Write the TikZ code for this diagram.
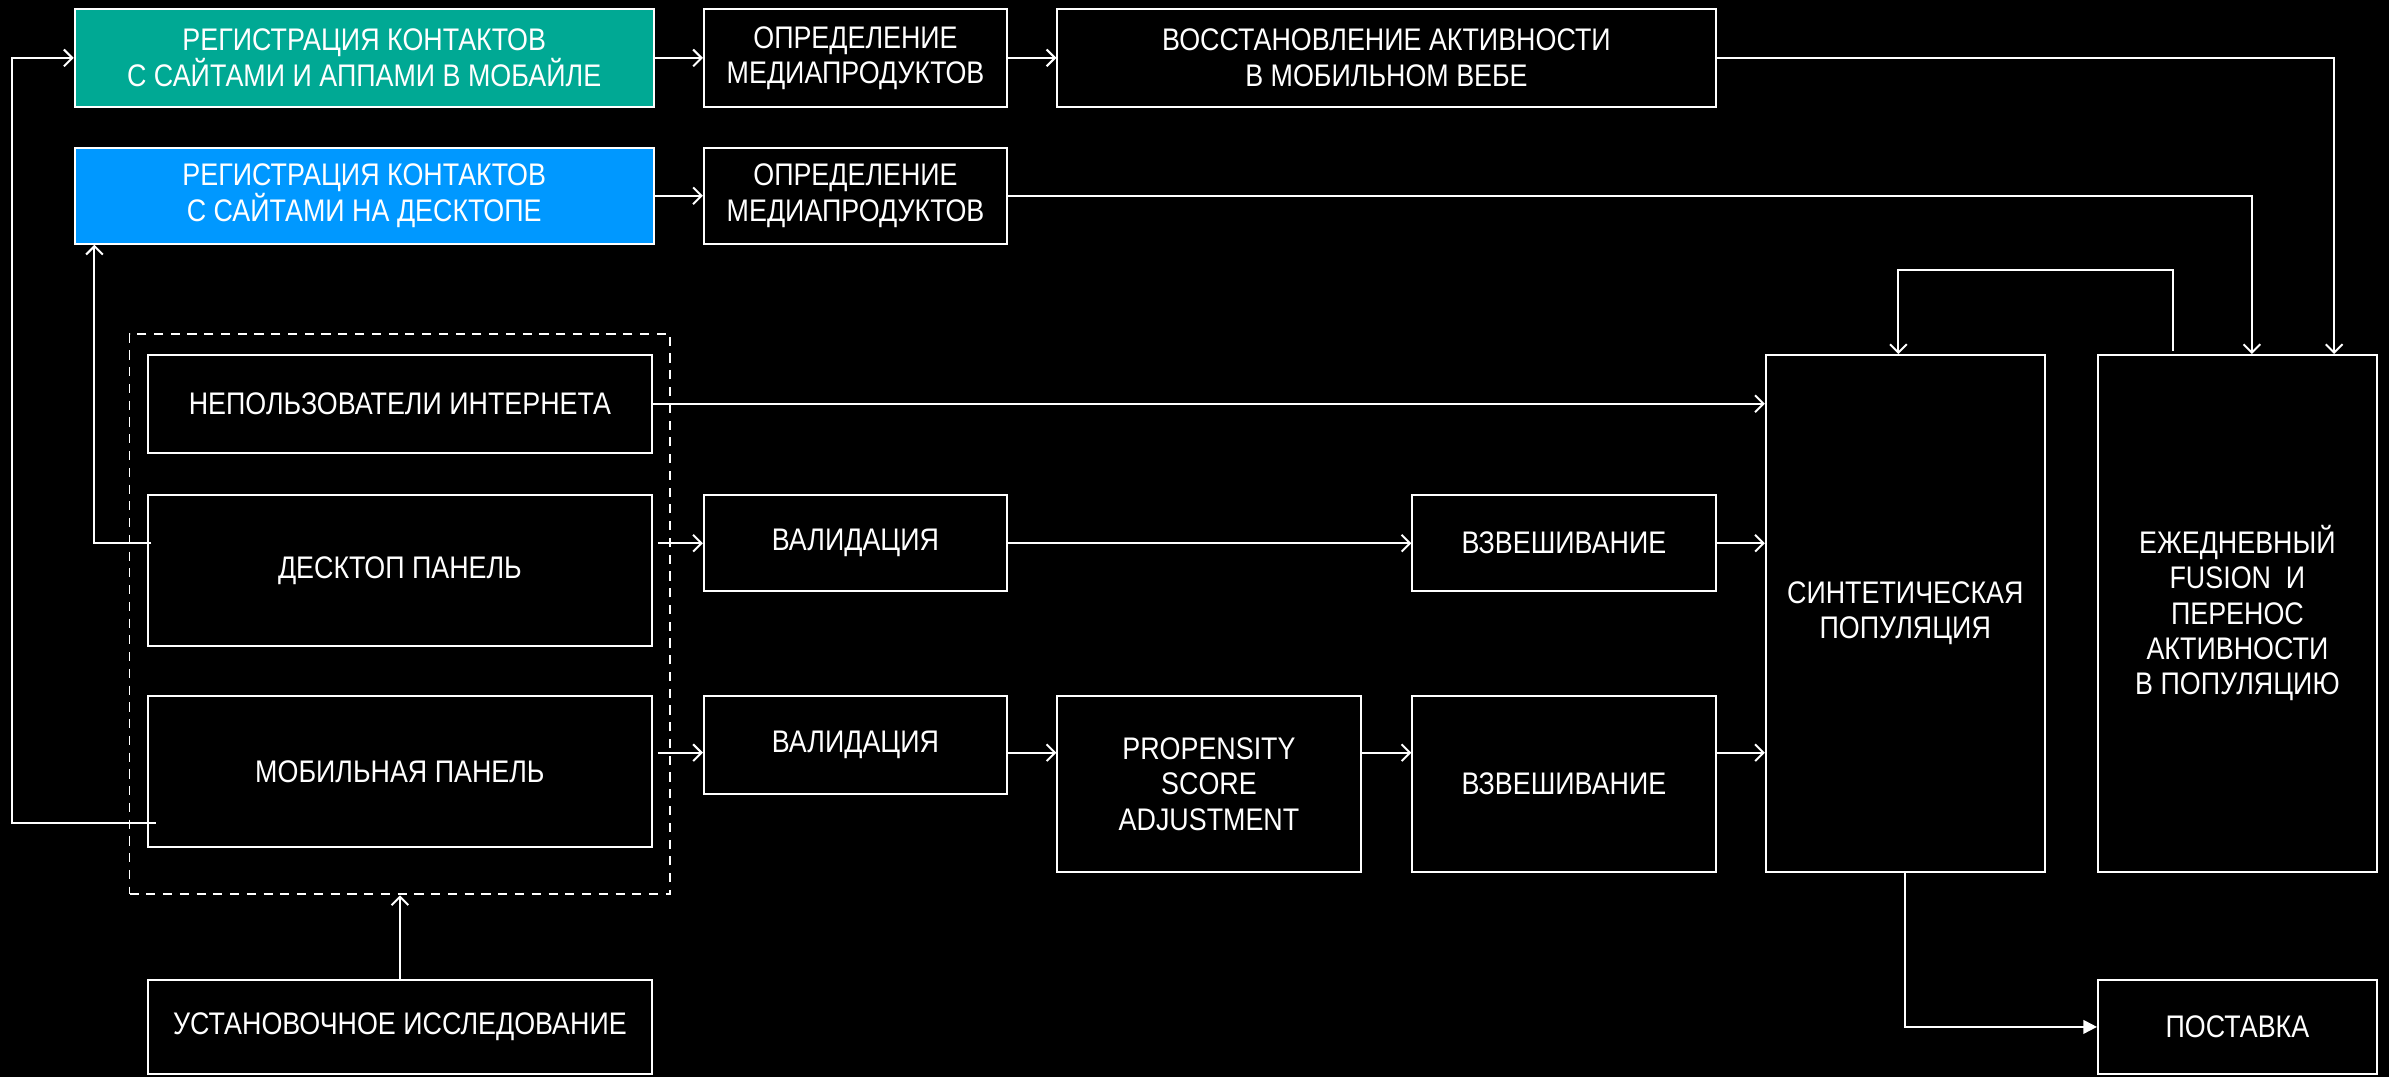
\documentclass[tikz,border=0pt]{standalone}
\usepackage{fontspec}
\setmainfont{Liberation Sans}[FakeStretch=0.86]
\usetikzlibrary{arrows.meta,calc}
\definecolor{greenc}{HTML}{00A994}
\definecolor{bluec}{HTML}{0098FF}
\begin{document}
\begin{tikzpicture}[x=1pt,y=-1pt,
 box/.style={draw=white, line width=1.3pt, text=white, align=center, inner sep=0pt, font=\fontsize{20.5}{23.2}\selectfont},
 arr/.style={draw=white, line width=1.3pt, -{Straight Barb[length=5.5pt,width=11pt]}},
 tri/.style={draw=white, line width=1.3pt, -{Triangle[length=9pt,width=9pt]}},
 grpbox/.style={draw=white, line width=1.3pt, dash pattern=on 6pt off 5pt, inner sep=0pt},
]
\fill[black] (0,0) rectangle (1568,707);
\useasboundingbox (0,0) rectangle (1568,707);

% top rows
\node[box, fill=greenc, minimum width=380pt, minimum height=64pt] (green) at (239,38) {РЕГИСТРАЦИЯ КОНТАКТОВ\\С САЙТАМИ И АППАМИ В МОБАЙЛЕ};
\node[box, fill=bluec, minimum width=380pt, minimum height=63pt] (blue) at (239,128.5) {РЕГИСТРАЦИЯ КОНТАКТОВ\\С САЙТАМИ НА ДЕСКТОПЕ};
\node[box, minimum width=199pt, minimum height=64pt] (opr1) at (561.5,38) {ОПРЕДЕЛЕНИЕ\\МЕДИАПРОДУКТОВ};
\node[box, minimum width=432pt, minimum height=64pt] (vosst) at (910,38) {ВОССТАНОВЛЕНИЕ АКТИВНОСТИ\\В МОБИЛЬНОМ ВЕБЕ};
\node[box, minimum width=199pt, minimum height=63pt] (opr2) at (561.5,128.5) {ОПРЕДЕЛЕНИЕ\\МЕДИАПРОДУКТОВ};

% group
\node[grpbox, minimum width=355pt, minimum height=368pt] (grp) at (262.5,403) {};
\node[box, minimum width=331pt, minimum height=64pt] (nepolz) at (262.5,265) {НЕПОЛЬЗОВАТЕЛИ ИНТЕРНЕТА};
\node[box, minimum width=331pt, minimum height=99pt] (desk) at (262.5,374.5) {ДЕСКТОП ПАНЕЛЬ};
\node[box, minimum width=331pt, minimum height=99pt] (mob) at (262.5,506.5) {МОБИЛЬНАЯ ПАНЕЛЬ};
\node[box, minimum width=331pt, minimum height=62pt] (ustan) at (262.5,674) {УСТАНОВОЧНОЕ ИССЛЕДОВАНИЕ};

% processing
\node[box, minimum width=199pt, minimum height=63pt] (val1) at (561.5,356.5) {ВАЛИДАЦИЯ};
\node[box, minimum width=199pt, minimum height=63pt] (vzv1) at (1026.5,356.5) {ВЗВЕШИВАНИЕ};
\node[box, minimum width=199pt, minimum height=64pt] (val2) at (561.5,489) {ВАЛИДАЦИЯ};
\node[box, minimum width=199pt, minimum height=115pt] (prop) at (793.5,514.5) {PROPENSITY\\SCORE\\ADJUSTMENT};
\node[box, minimum width=199pt, minimum height=115pt] (vzv2) at (1026.5,514.5) {ВЗВЕШИВАНИЕ};
\node[box, minimum width=183pt, minimum height=339pt] (sint) at (1250.5,402.5) {СИНТЕТИЧЕСКАЯ\\ПОПУЛЯЦИЯ};
\node[box, minimum width=183pt, minimum height=339pt] (ezh) at (1468.5,402.5) {ЕЖЕДНЕВНЫЙ\\FUSION\ \ И\\ПЕРЕНОС\\АКТИВНОСТИ\\В ПОПУЛЯЦИЮ};
\node[box, minimum width=183pt, minimum height=62pt] (post) at (1468.5,674) {ПОСТАВКА};

% helper coordinates
\coordinate (fbR) at (1426,177);
\coordinate (fbL) at (1246,177);
\coordinate (mobL) at (8,540);
\coordinate (deskL) at (62,356.5);
\coordinate (row2) at (0,494);

% connectors top
\draw[arr] (green.east) -- (opr1.west);
\draw[arr] (opr1.east) -- (vosst.west);
\draw[arr] (blue.east) -- (opr2.west);
\draw[arr] (vosst.east) -| ([xshift=63.5pt]ezh.north);
\draw[arr] (opr2.east) -| ([xshift=9.5pt]ezh.north);
\draw[arr] ([xshift=-42.5pt,yshift=2pt]ezh.north) -- (fbR) -- (fbL) -- (fbL |- sint.north);

% left loops
\draw[arr] ([xshift=6pt]mob.west |- mobL) -- (mobL) |- (green.west);
\draw[arr] ([xshift=3pt]desk.west |- deskL) -- (deskL) -- (deskL |- blue.south);

% middle rows
\draw[arr] (nepolz.east) -- (nepolz.east -| sint.west);
\draw[arr] ([xshift=3pt]val1.west -| desk.east) -- (val1.west);
\draw[arr] (val1.east) -- (vzv1.west);
\draw[arr] (vzv1.east) -- (vzv1.east -| sint.west);
\draw[arr] ([xshift=3pt]row2 -| mob.east) -- (row2 -| val2.west);
\draw[arr] (row2 -| val2.east) -- (row2 -| prop.west);
\draw[arr] (row2 -| prop.east) -- (row2 -| vzv2.west);
\draw[arr] (row2 -| vzv2.east) -- (row2 -| sint.west);

% bottom
\draw[arr] (ustan.north) -- (grp.south);
\draw[tri] (sint.south) |- (post.west);
\end{tikzpicture}
\end{document}
